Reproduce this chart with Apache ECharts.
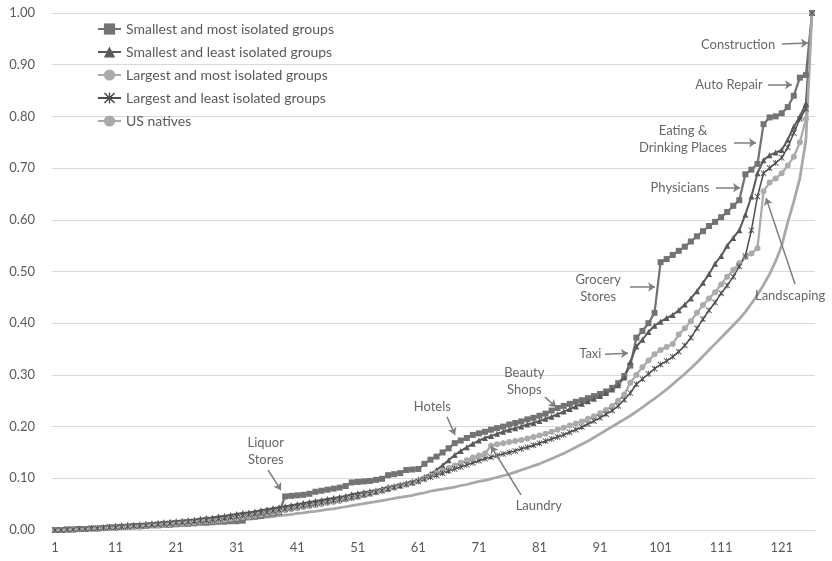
<!DOCTYPE html>
<html>
<head>
<meta charset="utf-8">
<script src="https://cdn.jsdelivr.net/npm/echarts@6/dist/echarts.min.js"></script>
<style>
  html, body { margin: 0; padding: 0; background: #ffffff; }
  #chart { width: 832px; height: 561px; }
</style>
</head>
<body>
<div id="chart"></div>
<script>
// Industry rank (1 = least concentrated ... 126 = construction)
const rankCategories = Array.from({ length: 126 }, (_, i) => String(i + 1));

const seriesNames = [
  'Smallest and most isolated groups',
  'Smallest and least isolated groups',
  'Largest and most isolated groups',
  'Largest and least isolated groups',
  'US natives'
];

// Cumulative share of employment by industry rank
const smallestMostIsolated = [
  0, 0, 0.001, 0.001, 0.002, 0.002, 0.003, 0.003, 0.004, 0.005,
  0.005, 0.006, 0.006, 0.007, 0.007, 0.008, 0.009, 0.009, 0.010, 0.010,
  0.011, 0.012, 0.012, 0.013, 0.014, 0.014, 0.015, 0.016, 0.016, 0.017,
  0.017, 0.018, 0.025, 0.026, 0.027, 0.030, 0.032, 0.034, 0.065, 0.066,
  0.067, 0.068, 0.070, 0.074, 0.076, 0.078, 0.080, 0.082, 0.085, 0.092,
  0.093, 0.094, 0.095, 0.097, 0.099, 0.106, 0.108, 0.110, 0.116, 0.117,
  0.118, 0.128, 0.136, 0.142, 0.150, 0.158, 0.168, 0.173, 0.178, 0.184,
  0.187, 0.190, 0.194, 0.197, 0.200, 0.204, 0.207, 0.210, 0.214, 0.217,
  0.221, 0.225, 0.231, 0.236, 0.240, 0.244, 0.248, 0.251, 0.255, 0.259,
  0.263, 0.268, 0.275, 0.284, 0.298, 0.318, 0.372, 0.385, 0.400, 0.420,
  0.518, 0.524, 0.532, 0.540, 0.548, 0.558, 0.568, 0.578, 0.588, 0.596,
  0.605, 0.615, 0.627, 0.638, 0.688, 0.697, 0.708, 0.785, 0.798, 0.800,
  0.806, 0.818, 0.840, 0.875, 0.880, 1.000
];

const smallestLeastIsolated = [
  0, 0.001, 0.001, 0.002, 0.003, 0.003, 0.004, 0.005, 0.006, 0.007,
  0.008, 0.009, 0.010, 0.010, 0.011, 0.012, 0.013, 0.014, 0.015, 0.016,
  0.017, 0.018, 0.019, 0.020, 0.022, 0.023, 0.024, 0.026, 0.027, 0.029,
  0.031, 0.033, 0.034, 0.036, 0.038, 0.040, 0.042, 0.044, 0.046, 0.048,
  0.050, 0.052, 0.054, 0.056, 0.058, 0.060, 0.062, 0.064, 0.066, 0.069,
  0.071, 0.073, 0.075, 0.077, 0.080, 0.083, 0.085, 0.088, 0.091, 0.094,
  0.098, 0.103, 0.109, 0.116, 0.125, 0.135, 0.145, 0.153, 0.160, 0.167,
  0.173, 0.178, 0.182, 0.186, 0.190, 0.194, 0.197, 0.200, 0.204, 0.207,
  0.211, 0.215, 0.219, 0.224, 0.229, 0.234, 0.239, 0.244, 0.249, 0.254,
  0.259, 0.265, 0.272, 0.280, 0.295, 0.325, 0.355, 0.368, 0.383, 0.395,
  0.403, 0.410, 0.416, 0.425, 0.436, 0.448, 0.462, 0.478, 0.495, 0.515,
  0.530, 0.550, 0.565, 0.580, 0.610, 0.645, 0.690, 0.715, 0.725, 0.730,
  0.735, 0.755, 0.780, 0.800, 0.825, 1.000
];

const largestMostIsolated = [
  0, 0, 0, 0.001, 0.001, 0.002, 0.002, 0.003, 0.003, 0.004,
  0.004, 0.005, 0.006, 0.006, 0.007, 0.008, 0.009, 0.009, 0.010, 0.011,
  0.012, 0.013, 0.014, 0.015, 0.016, 0.017, 0.018, 0.019, 0.020, 0.022,
  0.023, 0.025, 0.026, 0.028, 0.030, 0.032, 0.034, 0.036, 0.038, 0.040,
  0.042, 0.044, 0.046, 0.048, 0.050, 0.052, 0.054, 0.056, 0.059, 0.062,
  0.064, 0.067, 0.070, 0.073, 0.076, 0.079, 0.082, 0.085, 0.088, 0.091,
  0.095, 0.100, 0.105, 0.110, 0.115, 0.120, 0.125, 0.130, 0.135, 0.140,
  0.144, 0.148, 0.163, 0.166, 0.168, 0.170, 0.172, 0.174, 0.177, 0.180,
  0.183, 0.186, 0.190, 0.194, 0.198, 0.202, 0.206, 0.210, 0.215, 0.220,
  0.226, 0.232, 0.240, 0.250, 0.262, 0.285, 0.300, 0.315, 0.328, 0.340,
  0.348, 0.354, 0.360, 0.378, 0.390, 0.404, 0.420, 0.435, 0.448, 0.460,
  0.475, 0.490, 0.503, 0.516, 0.528, 0.535, 0.545, 0.655, 0.672, 0.680,
  0.690, 0.705, 0.722, 0.750, 0.795, 1.000
];

const largestLeastIsolated = [
  0, 0, 0.001, 0.001, 0.002, 0.002, 0.003, 0.003, 0.004, 0.005,
  0.005, 0.006, 0.007, 0.008, 0.008, 0.009, 0.010, 0.011, 0.012, 0.013,
  0.014, 0.015, 0.016, 0.017, 0.018, 0.019, 0.020, 0.022, 0.023, 0.025,
  0.026, 0.028, 0.030, 0.031, 0.033, 0.035, 0.037, 0.039, 0.041, 0.043,
  0.045, 0.047, 0.049, 0.051, 0.053, 0.055, 0.057, 0.059, 0.061, 0.063,
  0.065, 0.068, 0.070, 0.073, 0.076, 0.079, 0.082, 0.085, 0.088, 0.091,
  0.094, 0.098, 0.102, 0.106, 0.110, 0.114, 0.118, 0.122, 0.126, 0.130,
  0.134, 0.138, 0.141, 0.144, 0.147, 0.150, 0.153, 0.157, 0.160, 0.164,
  0.168, 0.172, 0.176, 0.180, 0.184, 0.189, 0.194, 0.199, 0.205, 0.211,
  0.217, 0.224, 0.231, 0.240, 0.252, 0.265, 0.282, 0.292, 0.302, 0.312,
  0.320, 0.327, 0.335, 0.345, 0.357, 0.372, 0.390, 0.408, 0.425, 0.440,
  0.458, 0.473, 0.490, 0.510, 0.530, 0.580, 0.645, 0.690, 0.700, 0.710,
  0.720, 0.740, 0.768, 0.795, 0.815, 1.000
];

const usNatives = [
  0, 0, 0, 0.001, 0.001, 0.001, 0.002, 0.002, 0.003, 0.003,
  0.004, 0.004, 0.005, 0.005, 0.006, 0.006, 0.007, 0.008, 0.008, 0.009,
  0.010, 0.011, 0.011, 0.012, 0.013, 0.014, 0.015, 0.016, 0.017, 0.018,
  0.019, 0.020, 0.021, 0.022, 0.024, 0.025, 0.026, 0.028, 0.029, 0.030,
  0.032, 0.033, 0.035, 0.036, 0.038, 0.040, 0.041, 0.043, 0.045, 0.047,
  0.049, 0.051, 0.053, 0.055, 0.057, 0.059, 0.061, 0.063, 0.065, 0.067,
  0.070, 0.072, 0.075, 0.077, 0.079, 0.081, 0.083, 0.086, 0.088, 0.091,
  0.094, 0.096, 0.099, 0.102, 0.105, 0.108, 0.112, 0.116, 0.120, 0.124,
  0.128, 0.133, 0.138, 0.143, 0.148, 0.154, 0.160, 0.166, 0.172, 0.179,
  0.186, 0.193, 0.200, 0.207, 0.214, 0.221, 0.229, 0.237, 0.246, 0.254,
  0.263, 0.272, 0.282, 0.292, 0.302, 0.313, 0.324, 0.336, 0.348, 0.360,
  0.372, 0.384, 0.396, 0.408, 0.422, 0.438, 0.455, 0.474, 0.495, 0.520,
  0.550, 0.595, 0.635, 0.680, 0.755, 1.000
];

// Industry call-outs: [text, rank position, share] (label centre)
const noteLabels = [
  ['Construction', 113.8, 0.938],
  ['Auto Repair', 112.3, 0.861],
  ['Eating &\nDrinking Places', 104.7, 0.756],
  ['Physicians', 104.2, 0.662],
  ['Grocery\nStores', 90.7, 0.468],
  ['Taxi', 89.4, 0.340],
  ['Landscaping', 122.4, 0.453],
  ['Beauty\nShops', 78.5, 0.288],
  ['Hotels', 63.3, 0.238],
  ['Laundry', 80.9, 0.046],
  ['Liquor\nStores', 35.8, 0.153]
];

// Call-out arrows: [fromRank, fromShare, toRank, toShare]
const noteArrows = [
  [121.05, 0.940, 125.35, 0.942],
  [118.74, 0.861, 122.70, 0.861],
  [113.12, 0.749, 116.76, 0.749],
  [110.15, 0.662, 114.12, 0.662],
  [95.95, 0.470, 100.08, 0.470],
  [91.82, 0.340, 95.62, 0.342],
  [123.2, 0.476, 118.41, 0.642],
  [81.91, 0.257, 83.73, 0.238],
  [65.73, 0.219, 67.05, 0.184],
  [77.95, 0.068, 73.0, 0.162],
  [36.17, 0.116, 38.32, 0.077]
];

const FONT = 'Lato, "Liberation Sans", sans-serif';
// star marker: a cross with a vertical stroke through it
const starPath = 'path://M4.4,0 L5.6,0 L5.6,10 L4.4,10 Z M0,1 L1,0 L5,4 L9,0 L10,1 L6,5 L10,9 L9,10 L5,6 L1,10 L0,9 L4,5 Z';

const chart = echarts.init(document.getElementById('chart'), null, { renderer: 'canvas' });

function lineSeries(name, data, color, width, symbol, size) {
  return {
    name: name,
    type: 'line',
    data: data,
    xAxisIndex: 0,
    yAxisIndex: 0,
    symbol: symbol,
    symbolSize: size,
    showSymbol: symbol !== 'none',
    showAllSymbol: true,
    lineStyle: { color: color, width: width },
    itemStyle: { color: color, borderWidth: 0 },
    emphasis: { disabled: true },
    animation: false
  };
}

chart.setOption({
  backgroundColor: '#ffffff',
  animation: false,
  textStyle: { fontFamily: FONT },
  grid: { left: 52, right: 17, top: 13, bottom: 31, containLabel: false },
  legend: {
    data: seriesNames,
    orient: 'vertical',
    left: 97,
    top: 22,
    padding: 0,
    itemWidth: 23,
    itemHeight: 14,
    itemGap: 9,
    textStyle: { color: '#595959', fontSize: 14, fontFamily: FONT },
    selectedMode: false
  },
  xAxis: [
    {
      type: 'category',
      data: rankCategories,
      boundaryGap: true,
      axisTick: { show: false },
      axisLine: { lineStyle: { color: '#d9d9d9', width: 1 } },
      axisLabel: { interval: 9, color: '#595959', fontSize: 13, fontFamily: FONT, margin: 11 },
      splitLine: { show: false }
    },
    {
      type: 'value',
      min: 0.5,
      max: 126.5,
      show: false
    }
  ],
  yAxis: {
    type: 'value',
    min: 0,
    max: 1,
    interval: 0.1,
    axisLine: { show: false },
    axisTick: { show: false },
    axisLabel: {
      color: '#595959', fontSize: 13, fontFamily: FONT, margin: 17,
      formatter: v => v.toFixed(2)
    },
    splitLine: { lineStyle: { color: '#d9d9d9', width: 1 } }
  },
  series: [
    lineSeries(seriesNames[0], smallestMostIsolated, '#737373', 2.25, 'rect', 6),
    lineSeries(seriesNames[1], smallestLeastIsolated, '#5a5a5a', 2, 'triangle', 6),
    lineSeries(seriesNames[2], largestMostIsolated, '#ababab', 2.25, 'circle', 6),
    lineSeries(seriesNames[3], largestLeastIsolated, '#4d4d4d', 1.5, starPath, 6),
    lineSeries(seriesNames[4], usNatives, '#a8a8a8', 2.75, 'none', 0),
    {
      type: 'lines',
      coordinateSystem: 'cartesian2d',
      xAxisIndex: 1,
      yAxisIndex: 0,
      symbol: ['none', 'arrow'],
      symbolSize: 7,
      silent: true,
      lineStyle: { color: '#7f7f7f', width: 1.5, opacity: 1, curveness: 0 },
      data: noteArrows.map(a => ({ coords: [[a[0], a[1]], [a[2], a[3]]] })),
      z: 5,
      animation: false
    },
    {
      type: 'scatter',
      xAxisIndex: 1,
      yAxisIndex: 0,
      symbolSize: 1,
      silent: true,
      itemStyle: { color: 'rgba(0,0,0,0)' },
      label: {
        show: true,
        position: 'inside',
        formatter: p => p.name,
        color: '#404040',
        fontSize: 13,
        lineHeight: 17,
        fontFamily: FONT,
        align: 'center'
      },
      data: noteLabels.map(n => ({ name: n[0], value: [n[1], n[2]] })),
      z: 6,
      animation: false
    }
  ]
});
</script>
</body>
</html>
